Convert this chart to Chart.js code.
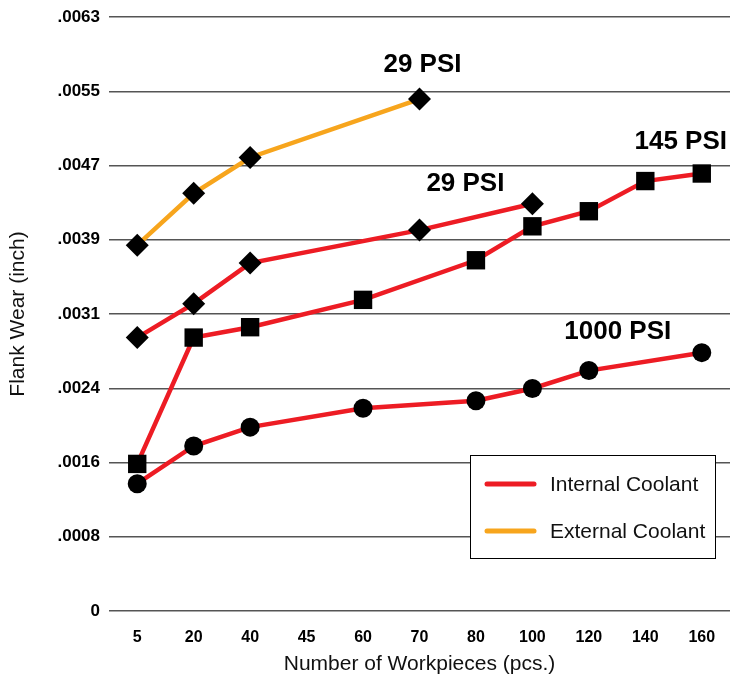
<!DOCTYPE html>
<html lang="en">
<head>
    <meta charset="UTF-8">
    <title>Flank Wear</title>
    <style>
        body { margin: 0; background: #fff; }
        canvas { display: block; }
    </style>
</head>
<body>
    <canvas id="wearChart" width="730" height="682"></canvas>

    <script src="https://cdn.jsdelivr.net/npm/chart.js"></script>
    <script>
// data
const workpieces = ['5', '20', '40', '45', '60', '70', '80', '100', '120', '140', '160'];
const yTickLabels = ['0', '.0008', '.0016', '.0024', '.0031', '.0039', '.0047', '.0055', '.0063'];
const yMax = 0.0063;

const external29 = [0.00388, 0.00443, 0.00481, null, null, 0.00543, null, null, null, null, null];
const internal29 = [0.00290, 0.00326, 0.00369, null, null, 0.00404, null, 0.00432, null, null, null];
const internal145 = [0.00156, 0.00290, 0.00301, null, 0.00330, null, 0.00372, 0.00408, 0.00424, 0.00456, 0.00464];
const internal1000 = [0.00135, 0.00175, 0.00195, null, 0.00215, null, 0.00223, 0.00236, 0.00255, null, 0.00274];

const RED = '#ed1c24';
const ORANGE = '#f7a51d';
const fontFamily = '"Liberation Sans", Arial, sans-serif';

// pressure labels, hung on the last point of each curve
const notes = [
    { ds: 0, idx: 5, text: '29 PSI', dx: 3, dy: -34 },
    { ds: 1, idx: 7, text: '29 PSI', dx: -67, dy: -20 },
    { ds: 2, idx: 10, text: '145 PSI', dx: -21, dy: -32 },
    { ds: 3, idx: 10, text: '1000 PSI', dx: -84, dy: -21 }
];

const legendItems = [
    { text: 'Internal Coolant', color: RED },
    { text: 'External Coolant', color: ORANGE }
];

const notesPlugin = {
    id: 'notes',
    afterDatasetsDraw(chart) {
        const ctx = chart.ctx;
        ctx.save();
        ctx.fillStyle = '#000';
        ctx.font = 'bold 26px ' + fontFamily;
        ctx.textAlign = 'center';
        ctx.textBaseline = 'middle';
        notes.forEach(n => {
            const pt = chart.getDatasetMeta(n.ds).data[n.idx];
            ctx.fillText(n.text, pt.x + n.dx, pt.y + n.dy);
        });

        // legend box, bottom right of the plot
        const ca = chart.chartArea;
        const w = 245, h = 103;
        const x = ca.right - 15 - w;
        const y = ca.bottom - 53 - h;
        ctx.fillStyle = '#fff';
        ctx.fillRect(x, y, w, h);
        ctx.strokeStyle = '#000';
        ctx.lineWidth = 1;
        ctx.strokeRect(x + 0.5, y + 0.5, w, h);
        ctx.font = '21px ' + fontFamily;
        ctx.textAlign = 'left';
        ctx.lineCap = 'round';
        legendItems.forEach((item, i) => {
            const ly = y + 29 + i * 47;
            ctx.strokeStyle = item.color;
            ctx.lineWidth = 5;
            ctx.beginPath();
            ctx.moveTo(x + 17, ly);
            ctx.lineTo(x + 64, ly);
            ctx.stroke();
            ctx.fillStyle = '#111';
            ctx.fillText(item.text, x + 80, ly + 1);
        });
        ctx.restore();
    }
};

function series(data, color, style, radius) {
    return {
        data: data,
        borderColor: color,
        borderWidth: 4.5,
        spanGaps: true,
        tension: 0,
        pointStyle: style,
        pointRadius: radius,
        pointHoverRadius: radius,
        pointBackgroundColor: '#000',
        pointBorderColor: '#000',
        pointBorderWidth: 0
    };
}

new Chart(document.getElementById('wearChart'), {
    type: 'line',
    data: {
        labels: workpieces,
        datasets: [
            series(external29, ORANGE, 'rectRot', 11.5),
            series(internal29, RED, 'rectRot', 11.5),
            series(internal145, RED, 'rect', 13),
            series(internal1000, RED, 'circle', 9.5)
        ]
    },
    options: {
        responsive: false,
        animation: false,
        // the grid runs off the right edge of the picture
        layout: { autoPadding: false, padding: { top: 17, right: -4, bottom: 0, left: 0 } },
        plugins: {
            legend: { display: false },
            tooltip: { enabled: false }
        },
        scales: {
            x: {
                offset: true,
                grid: { display: false },
                border: { display: false },
                ticks: {
                    color: '#000',
                    padding: 9,
                    font: { family: fontFamily, size: 16, weight: 'bold' }
                },
                title: {
                    display: true,
                    text: 'Number of Workpieces (pcs.)',
                    color: '#111',
                    padding: { top: 0, bottom: 5 },
                    font: { family: fontFamily, size: 21 }
                },
                afterFit(scale) {
                    scale.height = 71;
                    scale.paddingLeft = 0;
                    scale.paddingRight = 0;
                }
            },
            y: {
                min: 0,
                max: yMax,
                afterBuildTicks(scale) {
                    scale.ticks = yTickLabels.map((l, i) => ({ value: i * yMax / (yTickLabels.length - 1) }));
                },
                grid: { color: '#555', lineWidth: 1.5, drawTicks: false },
                border: { display: false },
                ticks: {
                    color: '#000',
                    padding: 9,
                    font: { family: fontFamily, size: 17, weight: 'bold' },
                    callback: (v, i) => yTickLabels[i]
                },
                title: {
                    display: true,
                    text: 'Flank Wear (inch)',
                    color: '#111',
                    padding: { top: 6, bottom: 0 },
                    font: { family: fontFamily, size: 21 }
                },
                afterFit(scale) {
                    scale.width = 109;
                    scale.paddingTop = 0;
                    scale.paddingBottom = 0;
                }
            }
        }
    },
    plugins: [notesPlugin]
});
    </script>
</body>
</html>
